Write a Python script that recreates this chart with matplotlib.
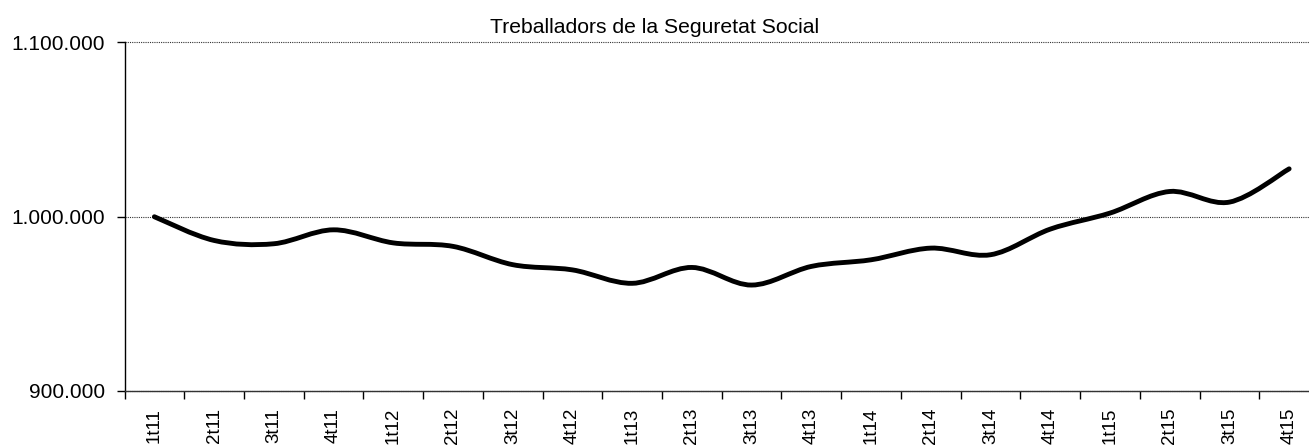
import matplotlib
matplotlib.use('Agg')
import matplotlib.pyplot as plt
from matplotlib.path import Path
from matplotlib.patches import PathPatch
from matplotlib.ticker import FuncFormatter, FixedLocator

plt.rcParams['font.family'] = ['Liberation Sans', 'DejaVu Sans']

quarters = ['1t11', '2t11', '3t11', '4t11', '1t12', '2t12', '3t12', '4t12',
            '1t13', '2t13', '3t13', '4t13', '1t14', '2t14', '3t14', '4t14',
            '1t15', '2t15', '3t15', '4t15']
workers = [1000000, 986400, 984500, 992500, 985000, 983000, 972500, 969500,
           961800, 970900, 960800, 971500, 975300, 982000, 978200, 992900,
           1002100, 1014500, 1008400, 1027500]
title = 'Treballadors de la Seguretat Social'

fig = plt.figure(figsize=(13.09, 4.45), dpi=100)
ax = fig.add_axes([124.5 / 1309, 1 - 391 / 445, (1319 - 124.5) / 1309, (391 - 42.5) / 445])

# smoothed line (Excel-like bezier through the points)
xs = list(range(len(workers)))
pts = list(zip(xs, workers))
verts = [pts[0]]
codes = [Path.MOVETO]
for i in range(len(pts) - 1):
    p0 = pts[i - 1] if i > 0 else pts[i]
    p1 = pts[i]
    p2 = pts[i + 1]
    p3 = pts[i + 2] if i + 2 < len(pts) else pts[i + 1]
    c1 = (p1[0] + (p2[0] - p0[0]) / 6, p1[1] + (p2[1] - p0[1]) / 6)
    c2 = (p2[0] - (p3[0] - p1[0]) / 6, p2[1] - (p3[1] - p1[1]) / 6)
    verts += [c1, c2, p2]
    codes += [Path.CURVE4] * 3
ax.add_patch(PathPatch(Path(verts, codes), fill=False, lw=3.5, ec='black',
                       capstyle='round', joinstyle='round', zorder=3))

ax.set_xlim(-0.5, len(quarters) - 0.5)
ax.set_ylim(900000, 1100000)
ax.set_yticks([900000, 1000000, 1100000])
ax.yaxis.set_major_formatter(FuncFormatter(lambda v, p: f'{int(v):,}'.replace(',', '.')))
ax.grid(axis='y', color='#333333', linestyle=(0, (1, 1)), linewidth=0.8)
for gl in ax.get_ygridlines():
    gl.set_clip_on(False)

ax.xaxis.set_major_locator(FixedLocator([i - 0.5 for i in range(len(quarters) + 1)]))
ax.xaxis.set_minor_locator(FixedLocator(xs))
ax.set_xticklabels([])
ax.set_xticklabels(quarters, minor=True, rotation=90, fontsize=13.5)
ax.tick_params(axis='x', which='major', length=6, direction='out', width=1)
ax.tick_params(axis='x', which='minor', length=0, pad=12)
ax.tick_params(axis='y', length=5.5, width=1, labelsize=15, pad=8.5)

for s in ['top', 'right']:
    ax.spines[s].set_visible(False)
ax.spines['left'].set_linewidth(1)
ax.spines['bottom'].set_linewidth(1)
ax.spines['bottom'].set_color('#333333')

fig.text(0.5, 1 - 33 / 445, title, ha='center', va='baseline', fontsize=15.2)

fig.savefig('out.png', dpi=100)
